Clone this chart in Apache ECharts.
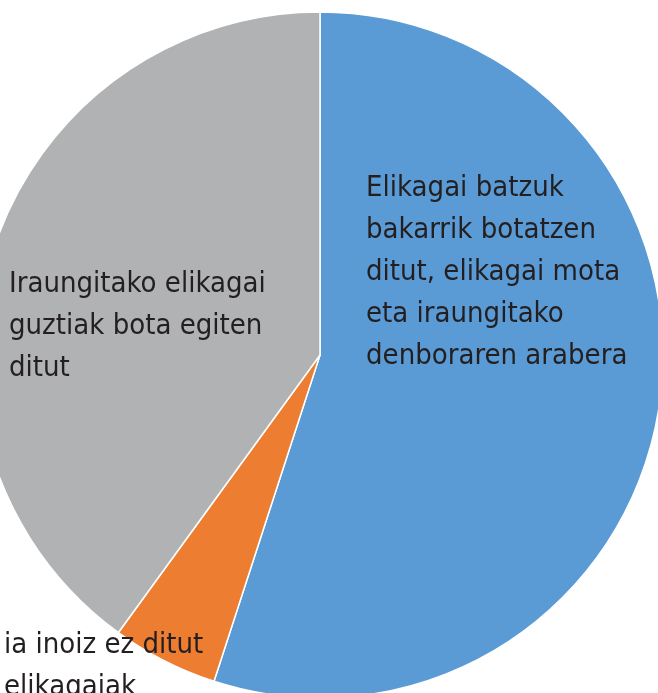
<!DOCTYPE html>
<html>
<head>
<meta charset="utf-8">
<style>
  html, body { margin: 0; padding: 0; background: #fff; }
  #main { width: 658px; height: 693px; }
</style>
<script src="https://cdn.jsdelivr.net/npm/echarts@6/dist/echarts.min.js"></script>
</head>
<body>
<div id="main"></div>
<script>
var categories = [
  'Elikagai batzuk\nbakarrik botatzen\nditut, elikagai mota\neta iraungitako\ndenboraren arabera',
  'ia inoiz ez ditut\nelikagaiak',
  'Iraungitako elikagai\nguztiak bota egiten\nditut'
];
var values = [55, 5, 40];
var colors = ['#5b9bd5', '#ed7d31', '#b1b2b4'];

// label anchor spots (top-left corner of each text block)
var labelSpots = [[366, 167], [4, 624], [9, 263]];

var chartDom = document.getElementById('main');
var myChart = echarts.init(chartDom);
var option;
option = {
  backgroundColor: '#fff',
  animation: false,
  series: [
    {
      type: 'pie',
      center: [320, 355],
      radius: 343,
      startAngle: 90,
      clockwise: true,
      data: categories.map(function (name, i) {
        return { name: name, value: values[i], itemStyle: { color: colors[i] } };
      }),
      itemStyle: { borderColor: '#fff', borderWidth: 1.5 },
      label: {
        show: true,
        position: 'inside',
        formatter: '{b}',
        color: '#231f20',
        fontFamily: '"Liberation Sans Narrow", "DejaVu Sans Condensed", sans-serif',
        fontSize: 29,
        lineHeight: 42,
        align: 'left'
      },
      labelLine: { show: false },
      labelLayout: function (params) {
        var p = labelSpots[params.dataIndex];
        return { x: p[0], y: p[1], align: 'left', verticalAlign: 'top' };
      },
      emphasis: { disabled: true }
    }
  ]
};
option && myChart.setOption(option);
</script>
</body>
</html>
